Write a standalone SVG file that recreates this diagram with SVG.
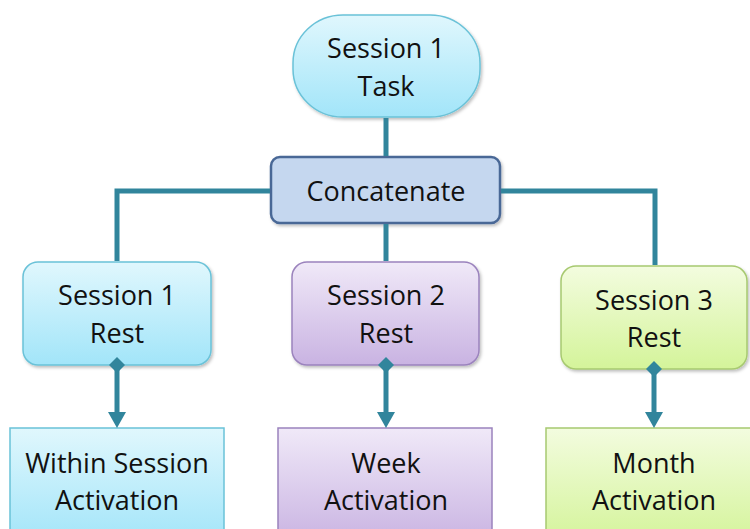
<svg xmlns="http://www.w3.org/2000/svg" width="750" height="529" viewBox="0 0 750 529">
  <defs>
    <linearGradient id="gCyan" x1="0" y1="0" x2="0" y2="1">
      <stop offset="0" stop-color="#e0f7fd"/>
      <stop offset="1" stop-color="#a2e5f9"/>
    </linearGradient>
    <linearGradient id="gPurple" x1="0" y1="0" x2="0" y2="1">
      <stop offset="0" stop-color="#f0e9f8"/>
      <stop offset="1" stop-color="#c9b3e2"/>
    </linearGradient>
    <linearGradient id="gGreen" x1="0" y1="0" x2="0" y2="1">
      <stop offset="0" stop-color="#f3fcdf"/>
      <stop offset="1" stop-color="#d4f49a"/>
    </linearGradient>
    <filter id="shadow" x="-10%" y="-10%" width="130%" height="130%">
      <feDropShadow dx="1.5" dy="2" stdDeviation="1.5" flood-color="#000" flood-opacity="0.25"/>
    </filter>
  </defs>
  <style>
    text { font-family: "Open Sans", "Noto Sans", "Liberation Sans", sans-serif; font-size: 27px; fill: #111; text-anchor: middle; }
    .cyan { fill: url(#gCyan); stroke: #6ac2d8; stroke-width: 1.5; }
    .purple { fill: url(#gPurple); stroke: #9b83bd; stroke-width: 1.5; }
    .green { fill: url(#gGreen); stroke: #a7c970; stroke-width: 1.5; }
    .concat { fill: #c5d7ef; stroke: #4a6896; stroke-width: 2.5; }
    .conn { fill: none; stroke: #31859c; stroke-width: 5; stroke-linejoin: miter; stroke-linecap: butt; }
    .head { fill: #31859c; }
  </style>

  <g id="task1">
    <rect class="cyan" x="293" y="15" width="187" height="102" rx="50" ry="48" filter="url(#shadow)"/>
    <text x="386" y="58">Session 1</text>
    <text x="386" y="96">Task</text>
  </g>

  <g id="concatenate">
    <rect class="concat" x="271" y="157" width="229" height="66" rx="9" filter="url(#shadow)"/>
    <text x="386" y="201">Concatenate</text>
  </g>

  <g id="rest1">
    <rect class="cyan" x="23" y="262" width="188" height="103" rx="15" filter="url(#shadow)"/>
    <text x="117" y="305">Session 1</text>
    <text x="117" y="343">Rest</text>
  </g>

  <g id="rest2">
    <rect class="purple" x="292" y="262" width="187" height="103" rx="15" filter="url(#shadow)"/>
    <text x="386" y="305">Session 2</text>
    <text x="386" y="343">Rest</text>
  </g>

  <g id="rest3">
    <rect class="green" x="561" y="266" width="186" height="103" rx="15" filter="url(#shadow)"/>
    <text x="654" y="310">Session 3</text>
    <text x="654" y="347">Rest</text>
  </g>

  <g id="act1">
    <rect class="cyan" x="10" y="428" width="214" height="115"/>
    <text x="117" y="473">Within Session</text>
    <text x="117" y="510">Activation</text>
  </g>

  <g id="act2">
    <rect class="purple" x="278" y="428" width="214" height="115"/>
    <text x="386" y="473">Week</text>
    <text x="386" y="510">Activation</text>
  </g>

  <g id="act3">
    <rect class="green" x="546" y="428" width="215" height="115"/>
    <text x="654" y="473">Month</text>
    <text x="654" y="510">Activation</text>
  </g>

  <g id="connectors">
    <path class="conn" d="M386 118 V156"/>
    <path class="conn" d="M270 191 H117 V261"/>
    <path class="conn" d="M501 191 H655 V265"/>
    <path class="conn" d="M386 224 V261"/>
    <path class="conn" d="M117 365 V414"/>
    <path class="conn" d="M386 365 V414"/>
    <path class="conn" d="M654 369 V414"/>
    <path class="head" d="M108 412 L126 412 L117 428 Z"/>
    <path class="head" d="M377 412 L395 412 L386 428 Z"/>
    <path class="head" d="M645 412 L663 412 L654 428 Z"/>
    <path class="head" d="M117 357 L125 365 L117 373 L109 365 Z"/>
    <path class="head" d="M386 357 L394 365 L386 373 L378 365 Z"/>
    <path class="head" d="M654 361 L662 369 L654 377 L646 369 Z"/>
  </g>
</svg>
